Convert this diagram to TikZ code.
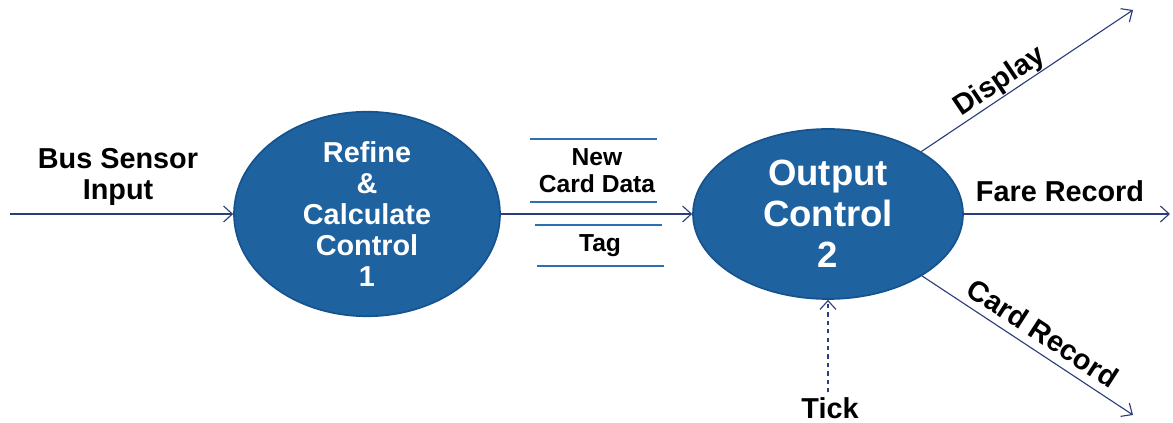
\documentclass[tikz,border=0pt]{standalone}
\usepackage{fontspec}
\setmainfont{Liberation Sans}
\usetikzlibrary{shapes.geometric,arrows.meta}

\definecolor{burbuja}{RGB}{30,98,160}
\definecolor{borde}{RGB}{22,82,142}
\definecolor{flujo}{RGB}{42,62,122}
\definecolor{barra}{RGB}{44,112,180}

\tikzset{
  proceso/.style={ellipse,draw=borde,line width=1.2pt,fill=burbuja,text=white,
    inner sep=0pt,align=center,font=\bfseries},
  etiqueta/.style={align=center,font=\bfseries\fontsize{20.5}{22}\selectfont},
  flecha/.style={draw=flujo,line width=0.8pt,-{Straight Barb[length=2.2mm,width=4mm]}},
  almacen/.style={draw=barra,line width=1pt}
}

\begin{document}
\begin{tikzpicture}
			\useasboundingbox (0,0) rectangle (29.325,10.575);

			% Procesos
			\node at (9.175,5.225) [proceso,minimum width=6.65cm,minimum height=3.65cm,
			  font=\bfseries\fontsize{20.5}{22}\selectfont] (refinar) {Refine\\\&\\Calculate\\Control\\1};
			\node at (20.7,5.225) [proceso,minimum width=6.75cm,minimum height=4.25cm,
			  font=\bfseries\fontsize{26}{29}\selectfont] (salida) {Output\\Control\\2};

			% Entrada
			\coordinate (entrada) at (0.25,5.225);
			\node at (2.95,6.15) [etiqueta] (sensor) {Bus Sensor\\Input};
			\draw[flecha] (entrada) -- (refinar);

			% Flujo entre procesos
			\draw[flecha] (refinar) -- (salida);
			\node at (14.925,6.3) [etiqueta,font=\bfseries\fontsize{17.5}{19.2}\selectfont] (tarjeta) {New\\Card Data};
			\node at (15.0,4.425) [etiqueta,font=\bfseries\fontsize{17.5}{19.2}\selectfont] (tag) {Tag};
			\draw[almacen] (13.25,7.1) -- (16.425,7.1);
			\draw[almacen] (13.25,5.525) -- (16.425,5.525);
			\draw[almacen] (13.375,4.95) -- (16.55,4.95);
			\draw[almacen] (13.425,3.925) -- (16.6,3.925);

			% Reloj
			\node at (20.75,0.375) [etiqueta] (tick) {Tick};
			\draw[flecha,dashed] (tick.north -| salida.south) -- (salida.south);

			% Salidas
			\coordinate (pantalla) at (28.325,10.325);
			\coordinate (tarifa) at (29.25,5.225);
			\coordinate (registro) at (28.325,0.2);
			\draw[flecha] (salida) -- (pantalla);
			\draw[flecha] (salida) -- (tarifa);
			\draw[flecha] (salida) -- (registro);
			\node at (25.0,8.525) [etiqueta,rotate=34] (display) {Display};
			\node at (26.5,5.8) [etiqueta] (fare) {Fare Record};
			\node at (26.075,2.25) [etiqueta,rotate=-33] (card) {Card Record};
		\end{tikzpicture}
\end{document}
